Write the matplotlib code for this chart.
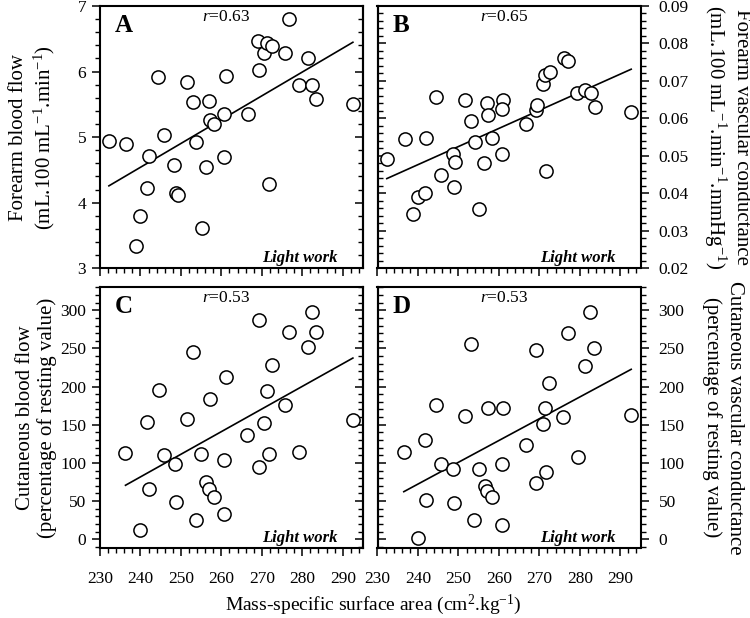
import matplotlib
matplotlib.use("Agg")
import matplotlib.pyplot as plt
import numpy as np
from matplotlib.ticker import MultipleLocator, FormatStrFormatter

plt.rcParams["font.family"] = ["Liberation Serif", "DejaVu Serif"]
plt.rcParams["font.size"] = 12.5
plt.rcParams["mathtext.fontset"] = "custom"
plt.rcParams["mathtext.rm"] = "Liberation Serif"
plt.rcParams["mathtext.it"] = "Liberation Serif:italic"
plt.rcParams["mathtext.bf"] = "Liberation Serif:bold"

# ---------------- data ----------------
# Panel A: forearm blood flow
xA = [232.2, 236.5, 238.8, 239.8, 241.6, 242.1, 244.4, 245.8, 248.4, 248.9,
      249.2, 251.5, 253.0, 253.8, 255.1, 256.3, 256.9, 257.1, 258.1, 260.7,
      260.7, 261.1, 266.5, 269.1, 269.3, 270.6, 271.3, 271.7, 272.5, 275.6,
      276.7, 279.2, 281.3, 282.4, 283.4, 292.5]
yA = [4.94, 4.90, 3.34, 3.79, 4.22, 4.71, 5.91, 5.04, 4.57, 4.15,
      4.12, 5.84, 5.53, 4.93, 3.62, 4.55, 5.55, 5.26, 5.20, 5.36,
      4.70, 5.94, 5.36, 6.47, 6.02, 6.29, 6.44, 4.28, 6.39, 6.28,
      6.80, 5.80, 6.21, 5.79, 5.58, 5.51]

# Panel B: forearm vascular conductance
xB = [232.3, 236.7, 242.1, 238.8, 240.0, 241.8, 244.5, 245.8, 248.6, 249.2,
      248.8, 251.6, 253.1, 254.0, 255.2, 256.4, 257.0, 257.3, 258.3, 261.0,
      260.8, 260.8, 266.6, 269.2, 269.4, 270.9, 271.5, 272.7, 271.7, 276.0,
      277.1, 279.4, 281.3, 282.8, 283.8, 292.7]
yB = [0.0492, 0.0544, 0.0548, 0.0346, 0.0391, 0.0401, 0.0656, 0.0450, 0.0506, 0.0484,
      0.0416, 0.0649, 0.0592, 0.0536, 0.0359, 0.0480, 0.0640, 0.0609, 0.0548, 0.0649,
      0.0624, 0.0504, 0.0585, 0.0622, 0.0635, 0.0693, 0.0716, 0.0724, 0.0459, 0.0760,
      0.0754, 0.0669, 0.0676, 0.0668, 0.0631, 0.0618]

# Panel C: cutaneous blood flow
xC = [236.3, 241.6, 242.1, 239.8, 244.5, 245.8, 248.6, 248.9, 251.5, 253.0,
      253.8, 255.0, 256.3, 256.9, 258.1, 257.1, 260.7, 260.7, 261.1, 266.4,
      269.2, 269.2, 270.6, 271.2, 271.7, 272.4, 275.6, 276.8, 279.1, 281.3,
      282.4, 283.4, 292.5]
yC = [112.5, 154.1, 65.7, 11.8, 195.8, 110.8, 98.6, 49.0, 157.2, 245.2,
      25.0, 111.7, 74.4, 65.7, 55.6, 183.4, 104.2, 32.9, 212.4, 136.1,
      287.8, 95.0, 152.4, 194.9, 111.7, 227.7, 176.5, 271.5, 114.3, 251.8,
      297.8, 271.5, 156.4]

# Panel D: cutaneous vascular conductance
xD = [236.5, 241.7, 242.1, 239.9, 244.5, 245.8, 248.6, 248.8, 251.7, 253.1,
      253.9, 255.2, 256.5, 257.0, 258.3, 257.3, 261.0, 260.8, 260.8, 266.6,
      269.2, 269.2, 270.9, 271.5, 271.7, 272.5, 275.8, 277.0, 279.5, 281.3,
      282.6, 283.5, 292.7]
yD = [113.8, 130.5, 51.6, 2.1, 176.5, 98.5, 92.0, 47.3, 162.0, 256.2,
      25.0, 92.0, 69.1, 62.6, 55.6, 172.1, 172.1, 98.5, 18.4, 123.5,
      73.6, 247.4, 151.1, 172.1, 88.4, 204.5, 159.8, 270.7, 107.2, 226.4,
      297.8, 250.5, 162.9]

r_labels = ["$r$=0.63", "$r$=0.65", "$r$=0.53", "$r$=0.53"]
panel_letters = ["A", "B", "C", "D"]
condition = "Light work"
ylabels = [
    "Forearm blood flow\n(mL.100 mL$^{-1}$.min$^{-1}$)",
    "Forearm vascular conductance\n(mL.100 mL$^{-1}$.min$^{-1}$.mmHg$^{-1}$)",
    "Cutaneous blood flow\n(percentage of resting value)",
    "Cutaneous vascular conductance\n(percentage of resting value)",
]
xlabel = "Mass-specific surface area (cm$^{2}$.kg$^{-1}$)"

# ---------------- figure ----------------
fig = plt.figure(figsize=(7.5, 6.18), dpi=100)
W, H = 750.0, 618.0
ax_w = 263 / W
axA = fig.add_axes([100 / W, 1 - 268.3 / H, ax_w, 262.3 / H])
axB = fig.add_axes([377.5 / W, 1 - 268.3 / H, ax_w, 262.3 / H])
axC = fig.add_axes([100 / W, 1 - 548.3 / H, ax_w, 261.6 / H])
axD = fig.add_axes([377.5 / W, 1 - 548.3 / H, ax_w, 261.6 / H])

datasets = [(axA, xA, yA), (axB, xB, yB), (axC, xC, yC), (axD, xD, yD)]
ylims = [(3, 7), (0.02, 0.09), (-12, 331), (-12, 331)]
ymaj = [1, 0.01, 50, 50]
ymin = [0.2, 0.002, 10, 10]

for i, (ax, x, y) in enumerate(datasets):
    x = np.asarray(x)
    y = np.asarray(y)
    ax.plot(x, y, linestyle="none", marker="o", markersize=9.5,
            markerfacecolor="white", markeredgecolor="black",
            markeredgewidth=1.1, zorder=3)
    k, b = np.polyfit(x, y, 1)
    xx = np.array([x.min(), x.max()])
    ax.plot(xx, k * xx + b, color="black", linewidth=1.2, zorder=2)

    ax.set_xlim(230, 295)
    ax.set_ylim(*ylims[i])
    ax.xaxis.set_major_locator(MultipleLocator(10))
    ax.xaxis.set_minor_locator(MultipleLocator(2))
    ax.yaxis.set_major_locator(MultipleLocator(ymaj[i]))
    ax.yaxis.set_minor_locator(MultipleLocator(ymin[i]))
    for s in ax.spines.values():
        s.set_linewidth(1.5)

    ax.tick_params(axis="x", which="both", direction="out", top=False,
                   bottom=True, labelbottom=(i >= 2), pad=10)
    right_side = (i % 2 == 1)
    if right_side:
        ax.yaxis.tick_right()
        ax.yaxis.set_label_position("right")
        ax.tick_params(axis="y", which="both", direction="out", pad=7)
    else:
        ax.tick_params(axis="y", which="both", direction="out", pad=4)
    ax.tick_params(which="major", length=6, width=1.1)
    ax.tick_params(which="minor", length=3.5, width=1.0)
    if i == 1:
        ax.yaxis.set_major_formatter(FormatStrFormatter("%.2f"))

    # inward mirror ticks on the inner side
    sec = ax.secondary_yaxis("left" if right_side else "right")
    sec.yaxis.set_major_locator(MultipleLocator(ymaj[i]))
    sec.yaxis.set_minor_locator(MultipleLocator(ymin[i]))
    sec.tick_params(which="both", direction="in", labelleft=False, labelright=False)
    sec.tick_params(which="major", length=6, width=1.1)
    sec.tick_params(which="minor", length=3.5, width=1.0)
    for s in sec.spines.values():
        s.set_linewidth(1.5)

    if right_side:
        ax.set_ylabel(ylabels[i], fontsize=15, rotation=270, va="bottom",
                      ha="center", rotation_mode="anchor")
        ax.yaxis.set_label_coords(1.235, 0.5)
    else:
        ax.set_ylabel(ylabels[i], fontsize=15, rotation=90, va="bottom",
                      ha="center", rotation_mode="anchor")
        ax.yaxis.set_label_coords(-0.162, 0.5)

    ax.text(0.057, 0.968, panel_letters[i], transform=ax.transAxes,
            fontsize=18, fontweight="bold", ha="left", va="top")
    ax.text(0.48, 0.958, r_labels[i], transform=ax.transAxes,
            fontsize=12.5, ha="center", va="center")
    ax.text(0.905, 0.025, condition, transform=ax.transAxes,
            fontsize=12, fontweight="bold", fontstyle="italic",
            ha="right", va="baseline")

fig.text(373 / W, 1 - 605 / H, xlabel, fontsize=14, ha="center", va="center")

fig.savefig("out.png", dpi=100)
